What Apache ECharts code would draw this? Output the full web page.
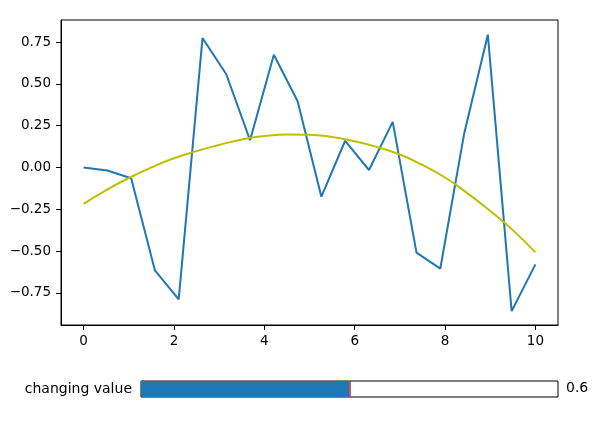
<!DOCTYPE html>
<html>
<head>
<meta charset="utf-8">
<script src="https://cdn.jsdelivr.net/npm/echarts@6/dist/echarts.min.js"></script>
<style>html,body{margin:0;padding:0;background:#fff}#c{width:594px;height:421px}</style>
</head>
<body>
<div id="c"></div>
<script>
// Noisy signal sampled at 20 evenly spaced x positions from 0 to 10
const signalX = [0, 0.526, 1.053, 1.579, 2.105, 2.632, 3.158, 3.684, 4.211, 4.737,
                 5.263, 5.789, 6.316, 6.842, 7.368, 7.895, 8.421, 8.947, 9.474, 10];
const signalY = [0.0, -0.018, -0.064, -0.616, -0.79, 0.775, 0.558, 0.163, 0.675, 0.397,
                 -0.175, 0.16, -0.015, 0.273, -0.51, -0.605, 0.2, 0.795, -0.86, -0.58];
// Fitted curve
const fitX = [0, 0.5, 1, 1.5, 2, 2.5, 3, 3.5, 4, 4.5, 5, 5.5, 6, 6.5, 7, 7.5, 8, 8.5, 9, 9.5, 10];
const fitY = [-0.218, -0.135, -0.063, 0.0, 0.055, 0.098, 0.135, 0.168, 0.188, 0.197, 0.196,
              0.182, 0.157, 0.122, 0.078, 0.015, -0.06, -0.155, -0.26, -0.375, -0.508];
const xTicks = [0, 2, 4, 6, 8, 10];
const yTicks = [-0.75, -0.5, -0.25, 0, 0.25, 0.5, 0.75];
// Slider
const sliderLabel = 'changing value';
const sliderMin = 0.1, sliderMax = 1.1;
const sliderValue = [0.6];

const fmtY = v => (v < 0 ? '\u2212' : '') + Math.abs(v).toFixed(2);
const fmtX = v => String(v);
const font = 'DejaVu Sans';
const fs = 13.5;

const chart = echarts.init(document.getElementById('c'), null, {renderer: 'canvas'});
chart.setOption({
  animation: false,
  backgroundColor: '#fff',
  textStyle: {fontFamily: font},
  grid: [
    {left: 61, right: 36, top: 20, bottom: 96, show: true, borderColor: '#000', borderWidth: 1, containLabel: false},
    {left: 141, right: 36, top: 381, height: 16, show: true, borderColor: '#000', borderWidth: 1, containLabel: false}
  ],
  xAxis: [
    {gridIndex: 0, type: 'value', min: -0.5, max: 10.5, position: 'bottom',
     splitLine: {show: false}, axisLine: {show: true, onZero: false, lineStyle: {color: '#000', width: 1}},
     axisTick: {show: true, length: 5, lineStyle: {color: '#000'}, customValues: xTicks},
     axisLabel: {color: '#000', fontSize: fs, fontFamily: font, margin: 9, customValues: xTicks, formatter: fmtX}},
    {gridIndex: 1, type: 'value', min: sliderMin, max: sliderMax,
     splitLine: {show: false}, axisLine: {show: false}, axisTick: {show: false}, axisLabel: {show: false}}
  ],
  yAxis: [
    {gridIndex: 0, type: 'value', min: -0.943, max: 0.883, position: 'left',
     splitLine: {show: false}, axisLine: {show: true, onZero: false, lineStyle: {color: '#000', width: 1}},
     axisTick: {show: true, length: 5, lineStyle: {color: '#000'}, customValues: yTicks},
     axisLabel: {color: '#000', fontSize: fs, fontFamily: font, margin: 10, customValues: yTicks, formatter: fmtY}},
    {gridIndex: 1, type: 'category', data: [sliderLabel],
     axisLine: {show: false}, axisTick: {show: false}, splitLine: {show: false},
     axisLabel: {color: '#000', fontSize: 14, fontFamily: font, margin: 9}}
  ],
  series: [
    {type: 'line', xAxisIndex: 0, yAxisIndex: 0, data: signalX.map((x, i) => [x, signalY[i]]),
     showSymbol: false, lineStyle: {color: '#1f77b4', width: 2}, z: 2},
    {type: 'line', xAxisIndex: 0, yAxisIndex: 0, data: fitX.map((x, i) => [x, fitY[i]]),
     smooth: true, showSymbol: false, lineStyle: {color: '#bfbf00', width: 2}, z: 3},
    {type: 'bar', xAxisIndex: 1, yAxisIndex: 1, data: sliderValue,
     barWidth: '100%', itemStyle: {color: '#1f77b4'},
     markLine: {symbol: 'none', silent: true, label: {show: false},
       lineStyle: {color: '#d62728', type: 'solid', width: 1.5},
       data: [{xAxis: sliderValue[0]}]}}
  ],
  graphic: [
    {type: 'text', left: 566, top: 381,
     style: {text: sliderValue[0].toFixed(1), fill: '#000', font: '14px "DejaVu Sans"'}}
  ]
});
</script>
</body>
</html>
